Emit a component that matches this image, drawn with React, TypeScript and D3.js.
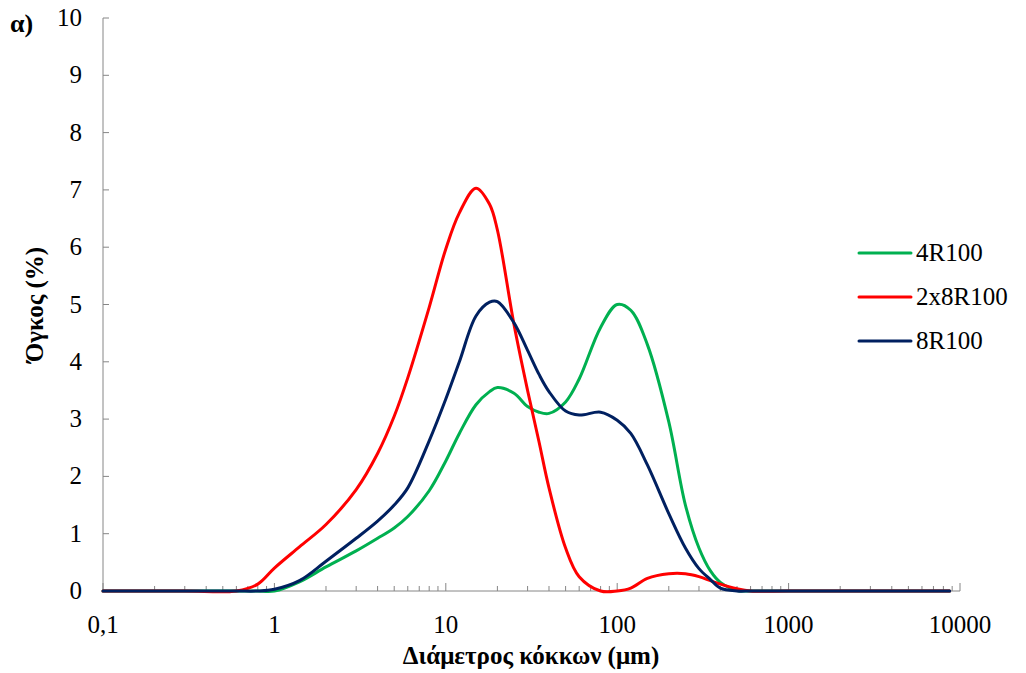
import { useRef, useEffect } from 'react'
import * as d3 from 'd3'

// particle diameter (μm) and volume (%) per sample
const DIAMETERS = [0.1, 0.3, 0.6, 0.8, 1, 1.4, 2, 3, 4, 5, 6, 8, 10, 12, 15, 18, 20, 25, 30, 35, 40, 50, 60, 80, 100, 120, 150, 200, 250, 300, 350, 400, 500, 600, 1000, 3000, 8700]

const V_4R100 = [0, 0, 0, 0, 0, 0.16, 0.42, 0.7, 0.92, 1.1, 1.3, 1.75, 2.27, 2.75, 3.25, 3.48, 3.55, 3.45, 3.22, 3.12, 3.1, 3.3, 3.7, 4.6, 5.0, 4.9, 4.3, 2.95, 1.5, 0.75, 0.35, 0.15, 0.01, 0, 0, 0, 0]
const V_2x8R100 = [0, 0, 0, 0.12, 0.4, 0.77, 1.16, 1.77, 2.4, 3.05, 3.72, 4.95, 5.97, 6.6, 7.03, 6.75, 6.3, 4.65, 3.5, 2.6, 1.8, 0.75, 0.25, 0, 0, 0.05, 0.22, 0.3, 0.3, 0.25, 0.18, 0.12, 0.04, 0, 0, 0, 0]
const V_8R100 = [0, 0, 0, 0, 0.03, 0.18, 0.52, 0.92, 1.22, 1.5, 1.8, 2.62, 3.35, 4.0, 4.8, 5.04, 5.05, 4.68, 4.2, 3.78, 3.48, 3.14, 3.07, 3.12, 2.98, 2.75, 2.2, 1.35, 0.75, 0.39, 0.2, 0.05, 0, 0, 0, 0, 0]

const SERIES = [
  { name: '4R100', values: V_4R100, color: '#00B050' },
  { name: '2x8R100', values: V_2x8R100, color: '#FF0000' },
  { name: '8R100', values: V_8R100, color: '#002060' },
]

const X_TICKS = [0.1, 1, 10, 100, 1000, 10000]
const X_LABELS = ['0,1', '1', '10', '100', '1000', '10000']
const Y_TICKS = [0, 1, 2, 3, 4, 5, 6, 7, 8, 9, 10]

const FONT = '"Liberation Serif", "Times New Roman", serif'
const AXIS = '#868686'

export default function App() {
  const svgRef = useRef<SVGSVGElement>(null)

  useEffect(() => {
    const W = 1026, H = 673
    const pad = { l: 103, r: 66, t: 18, b: 82 }
    const svg = d3.select(svgRef.current)
    svg.selectAll('*').remove()
    svg.attr('width', W).attr('height', H).style('display', 'block')

    const x = d3.scaleLog().domain([0.1, 10000]).range([pad.l, W - pad.r])
    const y = d3.scaleLinear().domain([0, 10]).range([H - pad.b, pad.t])
    const y0 = y(0)

    // y axis
    svg.append('line')
      .attr('x1', pad.l).attr('x2', pad.l).attr('y1', y(10)).attr('y2', y0)
      .attr('stroke', AXIS).attr('stroke-width', 1)
    svg.selectAll('.ytick').data(Y_TICKS).join('line')
      .attr('x1', pad.l).attr('x2', pad.l + 6)
      .attr('y1', d => y(d)).attr('y2', d => y(d))
      .attr('stroke', AXIS)
    svg.selectAll('.ylab').data(Y_TICKS).join('text')
      .attr('x', pad.l - 21).attr('y', d => y(d) + 8)
      .attr('text-anchor', 'end')
      .attr('font-family', FONT).attr('font-size', 25).attr('fill', '#000')
      .text(d => d)

    // x axis
    svg.append('line')
      .attr('x1', pad.l).attr('x2', W - pad.r).attr('y1', y0).attr('y2', y0)
      .attr('stroke', AXIS).attr('stroke-width', 1)
    const minor: number[] = []
    for (let e = -1; e < 4; e++) for (let m = 2; m <= 9; m++) minor.push(m * Math.pow(10, e))
    svg.selectAll('.xminor').data(minor).join('line')
      .attr('x1', d => x(d)).attr('x2', d => x(d))
      .attr('y1', y0).attr('y2', y0 - 5)
      .attr('stroke', AXIS)
    svg.selectAll('.xmajor').data(X_TICKS).join('line')
      .attr('x1', d => x(d)).attr('x2', d => x(d))
      .attr('y1', y0).attr('y2', y0 - 8)
      .attr('stroke', AXIS)
    svg.selectAll('.xlab').data(X_TICKS).join('text')
      .attr('x', d => x(d)).attr('y', y0 + 42)
      .attr('text-anchor', 'middle')
      .attr('font-family', FONT).attr('font-size', 25).attr('fill', '#000')
      .text((d, i) => X_LABELS[i])

    // smooth lines like the spreadsheet's smoothed series
    const line = d3.line<[number, number]>()
      .x(d => x(d[0])).y(d => Math.min(y0, y(d[1])))
      .curve(d3.curveCatmullRom.alpha(0.5))
    SERIES.forEach(s => {
      const pts = DIAMETERS.map((d, i) => [d, s.values[i]] as [number, number])
      svg.append('path')
        .attr('d', line(pts))
        .attr('fill', 'none')
        .attr('stroke', s.color)
        .attr('stroke-width', 3)
        .attr('stroke-linejoin', 'round')
        .attr('stroke-linecap', 'round')
    })

    // legend
    SERIES.forEach((s, i) => {
      const ly = 253 + i * 44
      svg.append('line')
        .attr('x1', 859).attr('x2', 911).attr('y1', ly).attr('y2', ly)
        .attr('stroke', s.color).attr('stroke-width', 3).attr('stroke-linecap', 'round')
      svg.append('text')
        .attr('x', 916).attr('y', ly + 8)
        .attr('font-family', FONT).attr('font-size', 25).attr('fill', '#000')
        .text(s.name)
    })

    // titles
    svg.append('text')
      .attr('x', 531).attr('y', 664)
      .attr('text-anchor', 'middle')
      .attr('font-family', FONT).attr('font-size', 25).attr('font-weight', 700)
      .text('Διάμετρος κόκκων (μm)')
    svg.append('text')
      .attr('transform', `translate(43, ${(y(10) + y0) / 2}) rotate(-90)`)
      .attr('text-anchor', 'middle')
      .attr('font-family', FONT).attr('font-size', 25).attr('font-weight', 700)
      .text('Όγκος (%)')
    svg.append('text')
      .attr('x', 10).attr('y', 32)
      .attr('font-family', FONT).attr('font-size', 26).attr('font-weight', 700)
      .text('α)')
  }, [])

  return (
    <div style={{ position: 'absolute', left: 0, top: 0, background: '#fff' }}>
      <svg ref={svgRef} />
    </div>
  )
}
